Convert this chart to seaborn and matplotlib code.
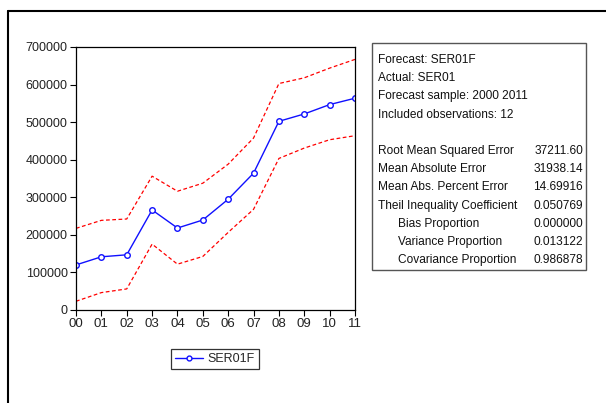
import matplotlib
matplotlib.use("Agg")
import matplotlib.pyplot as plt
import seaborn as sns
import pandas as pd
from matplotlib.lines import Line2D
from matplotlib.patches import Rectangle

sns.set_style("white")
plt.rcParams['font.family'] = ['Liberation Sans', 'DejaVu Sans']

years = ["00", "01", "02", "03", "04", "05", "06", "07", "08", "09", "10", "11"]
forecast = [120000, 141600, 146900, 266300, 218200, 239500, 294800, 364200, 502200, 521800, 546700, 563700]
upper = [217300, 238600, 242200, 356200, 316100, 337500, 388200, 457700, 602800, 618000, 643800, 667000]
lower = [23200, 46300, 56100, 175400, 122000, 142500, 206600, 268000, 403400, 431000, 453200, 463900]
yticks = [0, 100000, 200000, 300000, 400000, 500000, 600000, 700000]

stats_head = ["Forecast: SER01F", "Actual: SER01", "Forecast sample: 2000 2011", "Included observations: 12"]
stats_labels = ["Root Mean Squared Error", "Mean Absolute Error", "Mean Abs. Percent Error",
                "Theil Inequality Coefficient", "Bias Proportion", "Variance Proportion",
                "Covariance Proportion"]
stats_values = ["37211.60", "31938.14", "14.69916", "0.050769", "0.000000", "0.013122", "0.986878"]
stats_indent = [False, False, False, False, True, True, True]

W, H = 606, 403
fig = plt.figure(figsize=(W / 100, H / 100), dpi=100)
ax = fig.add_axes([76 / W, 1 - 310 / H, (355 - 76) / W, (310 - 47) / H])

pos = list(range(len(years)))
df = pd.DataFrame({"x": pos, "f": forecast, "u": upper, "l": lower})

sns.lineplot(data=df, x="x", y="u", ax=ax, color="red", linewidth=0.9,
             linestyle=(0, (3, 2)), legend=False)
sns.lineplot(data=df, x="x", y="l", ax=ax, color="red", linewidth=0.9,
             linestyle=(0, (3, 2)), legend=False)
sns.lineplot(data=df, x="x", y="f", ax=ax, color="#1010ff", linewidth=1.0,
             marker="o", markersize=4, markerfacecolor="white",
             markeredgecolor="#1010ff", markeredgewidth=1.0, legend=False)

ax.set_xlim(0, 11)
ax.set_ylim(0, 700000)
ax.set_xticks(pos)
ax.set_xticklabels(years)
ax.set_yticks(yticks)
ax.set_yticklabels([str(v) for v in yticks])
ax.set_xlabel("")
ax.set_ylabel("")
ax.tick_params(axis="both", direction="out", length=4, width=0.8, color="black",
               labelsize=9, labelcolor="#222222", pad=2, left=True, bottom=True)
ax.tick_params(axis="x", labelsize=9.5)
for s in ax.spines.values():
    s.set_visible(True)
    s.set_color("black")
    s.set_linewidth(0.9)

# legend
handle = Line2D([], [], color="#1010ff", linewidth=1.0, marker="o", markersize=3.5,
                markerfacecolor="white", markeredgecolor="#1010ff")
leg = fig.legend([handle], ["SER01F"], loc="center",
                 bbox_to_anchor=(215 / W, 1 - 359 / H), fontsize=9, frameon=True,
                 fancybox=False, edgecolor="black", handlelength=2.2, handletextpad=0.4,
                 borderpad=0.35, borderaxespad=0)
leg.get_frame().set_linewidth(0.9)

# stats box
fig.add_artist(Rectangle((372 / W, 1 - 270 / H), (586 - 372) / W, (270 - 43) / H,
                         transform=fig.transFigure, fill=False, edgecolor="#555555",
                         linewidth=1.0))
fs = 8.6
y0 = 60
step = 18.2
for i, t in enumerate(stats_head):
    fig.text(378 / W, 1 - (y0 + i * step) / H, t, fontsize=fs, va="center", ha="left",
             color="#111111")
y1 = 151
for i, (lab, val, ind) in enumerate(zip(stats_labels, stats_values, stats_indent)):
    yy = 1 - (y1 + i * step) / H
    fig.text((398 if ind else 378) / W, yy, lab, fontsize=fs, va="center", ha="left",
             color="#111111")
    fig.text(583 / W, yy, val, fontsize=fs, va="center", ha="right", color="#111111")

# outer frame lines
fig.add_artist(Line2D([8 / W, 1.0], [1 - 11 / H, 1 - 11 / H], transform=fig.transFigure,
                      color="black", linewidth=1.5))
fig.add_artist(Line2D([8 / W, 8 / W], [0, 1 - 11 / H], transform=fig.transFigure,
                      color="black", linewidth=1.5))

fig.savefig("out.png", dpi=100)
